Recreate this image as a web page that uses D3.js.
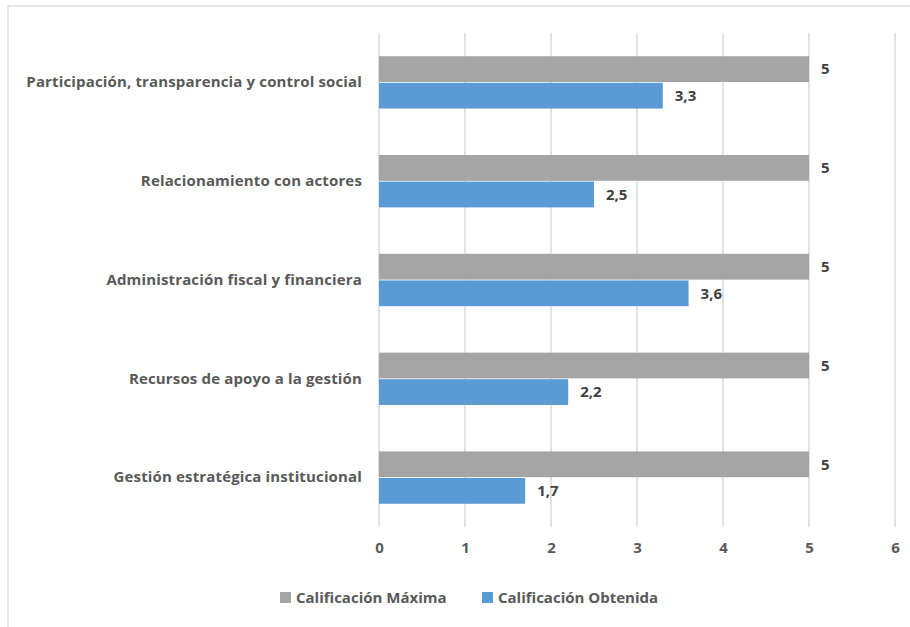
<!DOCTYPE html>
<html><head><meta charset="utf-8">
<script src="https://cdn.jsdelivr.net/npm/d3@7"></script>
<style>body{margin:0;background:#fff;} svg{display:block;}</style>
</head><body>
<script>
const categories = ["Participación, transparencia y control social","Relacionamiento con actores","Administración fiscal y financiera","Recursos de apoyo a la gestión","Gestión estratégica institucional"];
const maxima = [5,5,5,5,5];
const obtenida = [3.3,2.5,3.6,2.2,1.7];
const seriesNames = ["Calificación Máxima","Calificación Obtenida"];
const xTicks = [0,1,2,3,4,5,6];

const W=910,H=627;
const font = "'Open Sans', sans-serif";
const svg = d3.select("body").append("svg").attr("width",W).attr("height",H);
svg.append("rect").attr("x",8).attr("y",6).attr("width",W).attr("height",H).attr("fill","#fff").attr("stroke","#d9d9d9").attr("stroke-width",1.3);

const x = d3.scaleLinear().domain([0,6]).range([379,895]);
const y = d3.scaleBand().domain(categories).range([33,527]).paddingInner(0.47).paddingOuter(0.235);
const sub = d3.scaleBand().domain(seriesNames).range([0,y.bandwidth()]).paddingInner(0.03);
const colors = {"Calificación Máxima":"#a5a5a5","Calificación Obtenida":"#5b9bd5"};

// grid
svg.append("g").selectAll("line").data(xTicks).join("line")
  .attr("x1",d=>x(d)).attr("x2",d=>x(d)).attr("y1",33).attr("y2",527)
  .attr("stroke","#d9d9d9").attr("stroke-width",1.5);

const xAxis = svg.append("g").attr("transform","translate(0,527)")
  .call(d3.axisBottom(x).tickValues(xTicks).tickSize(0).tickPadding(15).tickFormat(d3.format("d")));
xAxis.select(".domain").remove();
xAxis.selectAll("text").attr("font-family",font).attr("font-size",15).attr("font-weight",700).attr("fill","#595959");

const yAxis = svg.append("g").attr("transform","translate(379,0)")
  .call(d3.axisLeft(y).tickSize(0).tickPadding(17));
yAxis.select(".domain").remove();
yAxis.selectAll("text").attr("font-family",font).attr("font-size",15).attr("font-weight",700).attr("fill","#595959").attr("letter-spacing","0.15");

const rows = categories.map((c,i)=>({c, vals:[{s:seriesNames[0],v:maxima[i]},{s:seriesNames[1],v:obtenida[i]}]}));
const g = svg.append("g").selectAll("g").data(rows).join("g").attr("transform",d=>`translate(0,${y(d.c)})`);
g.selectAll("rect").data(d=>d.vals).join("rect")
  .attr("x",x(0)).attr("y",d=>sub(d.s)).attr("width",d=>x(d.v)-x(0)).attr("height",sub.bandwidth())
  .attr("fill",d=>colors[d.s]);
g.selectAll("text").data(d=>d.vals).join("text")
  .attr("x",d=>x(d.v)+12).attr("y",d=>sub(d.s)+sub.bandwidth()/2).attr("dy","0.35em")
  .attr("font-family",font).attr("font-size",15).attr("font-weight",700).attr("fill","#404040")
  .text(d=>String(d.v).replace(".",","));

// legend
const legX = [280,482];
const leg = svg.append("g").selectAll("g").data(seriesNames).join("g").attr("transform",(d,i)=>`translate(${legX[i]},592)`);
leg.append("rect").attr("width",11).attr("height",11).attr("fill",d=>colors[d]);
leg.append("text").attr("x",16).attr("y",6).attr("dy","0.35em").attr("font-family",font).attr("font-size",15).attr("font-weight",700).attr("fill","#595959").text(d=>d);
</script>
</body></html>
